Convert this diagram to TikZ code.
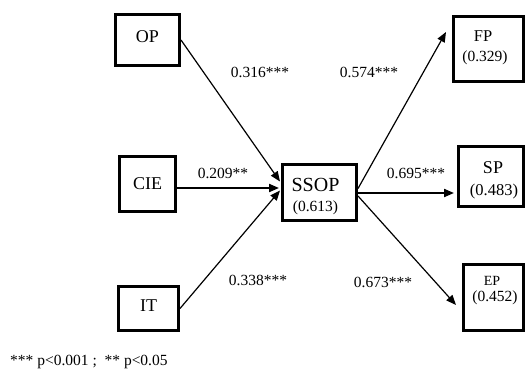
\documentclass[tikz,border=0pt]{standalone}
\usepackage{fontspec}
\setmainfont{Liberation Serif}
\usetikzlibrary{arrows.meta}

\begin{document}
\begin{tikzpicture}[x=1pt, y=-1pt,
    var/.style={draw, line width=3pt, inner sep=0pt, font=\fontsize{18}{18}\selectfont},
    path/.style={line width=1.2pt, -{Triangle[length=10pt, width=8pt]}},
    coef/.style={font=\fontsize{15.5}{16}\selectfont}]
  \useasboundingbox (0,0) rectangle (525,369);
  % exogenous constructs
  \node[var, minimum width=64pt, minimum height=51pt, text depth=7pt] (op) at (147.5,40) {OP};
  \node[var, minimum width=56pt, minimum height=55pt] (cie) at (147.5,184) {CIE};
  \node[var, minimum width=60pt, minimum height=44pt, text depth=6pt] (it) at (148.5,308.5) {IT};
  % mediator
  \node[var, minimum width=74pt, minimum height=56pt] (ssop) at (319.5,192.5) {};
  \node[anchor=base, font=\fontsize{20}{22}\selectfont] (ssopname) at (315.5,191) {SSOP};
  \node[anchor=base, font=\fontsize{15.5}{17}\selectfont] (ssopr2) at (315.5,211.7) {(0.613)};
  % outcomes
  \node[var, minimum width=70pt, minimum height=65pt] (fp) at (488.5,49) {};
  \node[anchor=base, font=\fontsize{16.5}{18}\selectfont] (fpname) at (483,41.7) {FP};
  \node[anchor=base, font=\fontsize{15.5}{17}\selectfont] (fpr2) at (485,61.7) {(0.329)};
  \node[var, minimum width=65pt, minimum height=60pt] (sp) at (491,176.5) {};
  \node[anchor=base, font=\fontsize{18}{19}\selectfont] (spname) at (493,173.3) {SP};
  \node[anchor=base, font=\fontsize{16.5}{18}\selectfont] (spr2) at (494,195) {(0.483)};
  \node[var, minimum width=60pt, minimum height=66pt] (ep) at (493.5,297.5) {};
  \node[anchor=base, font=\fontsize{14}{15}\selectfont] (epname) at (492,285) {EP};
  \node[anchor=base, font=\fontsize{15.5}{17}\selectfont] (epr2) at (495,301.7) {(0.452)};
  % structural paths
  \draw[path] (op.east) -- ([xshift=-1pt, yshift=11pt]ssop.west);
  \draw[path, line width=2pt] ([yshift=-4pt]cie.east) -- ([xshift=-2pt, yshift=4.5pt]ssop.west);
  \draw[path] (it.east) -- ([xshift=-1pt, yshift=2pt]ssop.west);
  \draw[path] ([yshift=4pt]ssop.east) -- ([xshift=-6pt, yshift=17pt]fp.west);
  \draw[path, line width=2pt] ([yshift=-0.5pt]ssop.east) -- ([xshift=-3pt, yshift=-16.5pt]sp.west);
  \draw[path] ([yshift=-3.5pt]ssop.east) -- ([xshift=-6pt, yshift=-7.5pt]ep.west);
  % coefficients
  \node[coef] (c1) at (260,72) {0.316***};
  \node[coef] (c2) at (223,173) {0.209**};
  \node[coef] (c3) at (258,280) {0.338***};
  \node[coef] (c4) at (369,72) {0.574***};
  \node[coef] (c5) at (416,173) {0.695***};
  \node[coef] (c6) at (383,282) {0.673***};
  \node[coef, anchor=west, inner sep=0pt] (note) at (10,362) {*** p<0.001 ;\ \ ** p<0.05};
\end{tikzpicture}
\end{document}
